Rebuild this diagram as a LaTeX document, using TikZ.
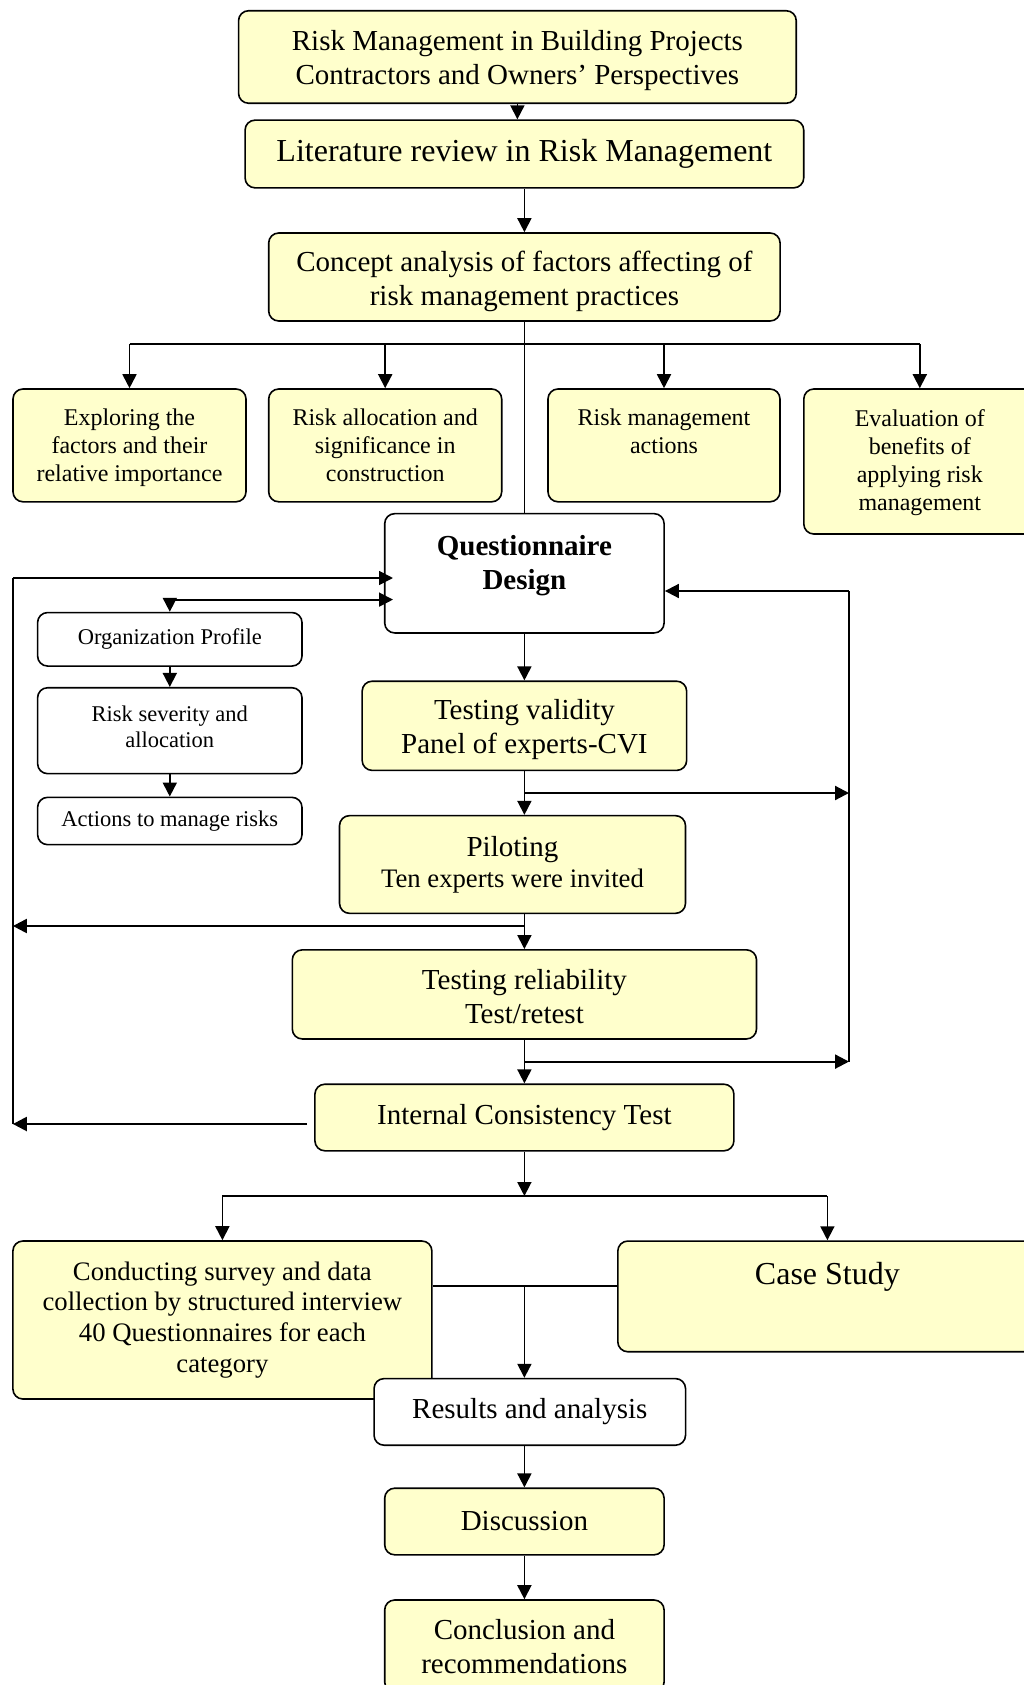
\documentclass[tikz,border=0pt]{standalone}
\usepackage{fontspec}
\setmainfont{Liberation Serif}
\usetikzlibrary{arrows.meta,calc}
\definecolor{boxyellow}{HTML}{FFFFCC}
\tikzset{
  ybox/.style={draw, line width=1.6pt, rounded corners=10pt, fill=boxyellow, inner sep=0pt, align=center},
  wbox/.style={ybox, fill=white},
  ln/.style={line width=1.8pt},
  arr/.style={ln, -{Triangle[length=14pt,width=14pt]}},
  darr/.style={ln, {Triangle[length=14pt,width=14pt]}-{Triangle[length=14pt,width=14pt]}},
  fA/.style={font=\fontsize{29}{34}\selectfont},
  fB/.style={font=\fontsize{32}{37}\selectfont},
  fC/.style={font=\fontsize{24}{28}\selectfont},
  fD/.style={font=\fontsize{22.5}{26}\selectfont},
  fE/.style={font=\fontsize{26.7}{30.8}\selectfont},
}
\begin{document}
\begin{tikzpicture}[x=1pt,y=-1pt]
\useasboundingbox (0,0) rectangle (1024,1685);
\fill[white] (0,0) rectangle (1024,1685);
\coordinate (sp) at (524.4,0);

% top chain
\node[ybox, minimum width=557.7, minimum height=92.5,
  label={[fA, align=center, yshift=-4pt]center:{Risk Management in Building Projects\\Contractors and Owners’ Perspectives}}] (title) at (517.4,57) {};
\node[ybox, fB, minimum width=558.7, minimum height=67.7] (lit) at (524.4,154)
  {Literature review in Risk Management};
\node[ybox, minimum width=511.4, minimum height=88,
  label={[fA, align=center, yshift=-4pt]center:{Concept analysis of factors affecting of\\risk management practices}}] (concept) at (524.4,277) {};

% four branches
\node[ybox, minimum width=233, minimum height=112.8,
  label={[fC, align=center, yshift=-2pt]center:{Exploring the\\factors and their\\relative importance}}] (explore) at (129.5,445.4) {};
\node[ybox, minimum width=233, minimum height=112.8,
  label={[fC, align=center, yshift=0pt]center:{Risk allocation and\\significance in\\construction}}] (alloc) at (385.2,445.4) {};
\node[ybox, minimum width=232, minimum height=112.8,
  label={[fC, align=center, yshift=14pt]center:{Risk management\\actions}}] (actions) at (664,445.4) {};
\node[ybox, minimum width=232, minimum height=145,
  label={[fC, align=center, yshift=-1.5pt]center:{Evaluation of\\benefits of\\applying risk\\management}}] (eval) at (919.8,461.5) {};

% questionnaire
\node[wbox, minimum width=279.4, minimum height=119.3,
  label={[font=\fontsize{29}{34}\selectfont\bfseries, align=center, yshift=8pt]center:{Questionnaire\\Design}}] (qd) at (524.4,573.3) {};

\node[wbox, fD, minimum width=264.4, minimum height=53.5] (org) at (169.8,639.3)
  {Organization Profile};
\node[wbox, minimum width=264.4, minimum height=85.9,
  label={[fD, align=center, yshift=4pt]center:{Risk severity and\\allocation}}] (sev) at (169.8,730.7) {};
\node[wbox, fD, minimum width=264.4, minimum height=47.3] (act) at (169.8,821)
  {Actions to manage risks};

\node[ybox, minimum width=324.5, minimum height=89.2,
  label={[fA, align=center, yshift=-4pt]center:{Testing validity\\Panel of experts-CVI}}] (tv) at (524.4,725.8) {};
\node[ybox, minimum width=346, minimum height=97.7,
  label={[align=center, yshift=0pt]center:{\fontsize{29}{34}\selectfont Piloting\\[5pt]\fontsize{26.7}{31}\selectfont Ten experts were invited}}] (pilot) at (512.5,864.5) {};
\node[ybox, minimum width=464.2, minimum height=89.1,
  label={[fA, align=center, yshift=-2pt]center:{Testing reliability\\Test/retest}}] (tr) at (524.4,994.4) {};
\node[ybox, fA, minimum width=419, minimum height=66.6] (ict) at (524.4,1117.5)
  {Internal Consistency Test};

% survey and case study
\node[ybox, fE, minimum width=419, minimum height=158] (cond) at (222.4,1320)
  {Conducting survey and data\\collection by structured interview\\40 Questionnaires for each\\category};
\node[ybox, minimum width=419.2, minimum height=110.7,
  label={[fB, yshift=20pt]center:{Case Study}}] (case) at (827.4,1296.4) {};

\node[wbox, fA, minimum width=311.5, minimum height=66.6] (res) at (529.8,1411.9)
  {Results and analysis};
\node[ybox, fA, minimum width=279.4, minimum height=66.6] (disc) at (524.4,1521.5)
  {Discussion};
\node[ybox, minimum width=279.4, minimum height=92,
  label={[fA, align=center, yshift=-1pt]center:{Conclusion and\\recommendations}}] (conc) at (524.4,1646) {};

% connectors: top
\draw[arr] (title.south) -- (title.south |- lit.north);
\draw[arr] (lit.south) -- (concept.north);
\coordinate (bus) at (524.4,344);
\draw[ln] (concept.south) -- (qd.north);
\draw[ln] (explore.north |- bus) -- (eval.north |- bus);
\draw[arr] (explore.north |- bus) -- (explore.north);
\draw[arr] (alloc.north |- bus) -- (alloc.north);
\draw[arr] (actions.north |- bus) -- (actions.north);
\draw[arr] (eval.north |- bus) -- (eval.north);

% left feedback loop
\coordinate (lt) at (12.9,578);
\coordinate (lb) at (12.9,1124);
\coordinate (qin) at (393,0);
\draw[ln] (lb) -- (lt);
\draw[arr] (lt) -- (lt -| qin);
\coordinate (oq) at (169.8,599.6);
\draw[darr] (org.north) -- (oq) -- (oq -| qin);
\draw[arr] (org.south) -- (sev.north);
\draw[arr] (sev.south) -- (act.north);

% main spine
\draw[arr] (qd.south) -- (tv.north);
\draw[arr] (tv.south) -- (pilot.north -| sp);
\draw[arr] (pilot.south -| sp) -- (tr.north);
\draw[arr] (tr.south) -- (ict.north);

% right feedback loop
\coordinate (rt) at (849,591);
\coordinate (rb) at (849,1061.6);
\draw[ln] (rb) -- (rt);
\draw[arr] (rt) -- (rt -| qd.east);
\coordinate (tvb) at (524.4,793);
\draw[arr, line width=2.2pt] (tvb) -- (tvb -| rt);
\coordinate (trb) at (524.4,1061.6);
\draw[arr, line width=2.2pt] (trb) -- (rb);

% left branches
\coordinate (pb) at (524.4,926);
\draw[arr, line width=2.2pt] (pb) -- (pb -| lt);
\coordinate (ictl) at (307,1124);
\draw[arr, line width=2.4pt] (ictl) -- (lb);

% split
\coordinate (split) at (524.4,1196);
\draw[arr] (ict.south) -- (split);
\draw[ln] (cond.north |- split) -- (case.north |- split);
\draw[arr] (cond.north |- split) -- (cond.north);
\draw[arr] (case.north |- split) -- (case.north);
\coordinate (mid) at (524.4,1286);
\draw[ln] (cond.east |- mid) -- (case.west |- mid);
\draw[arr] (mid) -- (res.north -| mid);
\draw[arr] (res.south -| sp) -- (disc.north);
\draw[arr] (disc.south) -- (conc.north);
\end{tikzpicture}
\end{document}
